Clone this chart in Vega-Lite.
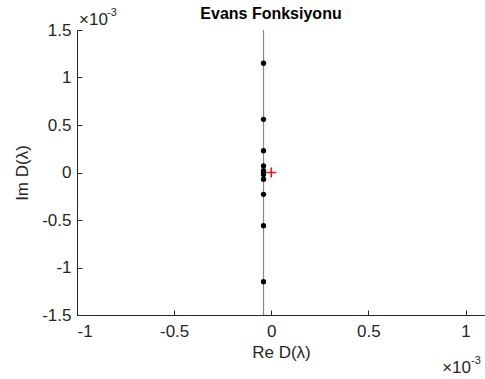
{
  "$schema": "https://vega.github.io/schema/vega-lite/v6.json",
  "autosize": "none",
  "width": 408,
  "height": 285,
  "padding": {"left": 77, "top": 30, "right": 0, "bottom": 64},
  "background": "white",
  "config": {
    "font": "Liberation Sans",
    "view": {"stroke": null},
    "axis": {
      "grid": false,
      "domainColor": "#262626",
      "tickColor": "#262626",
      "labelColor": "#262626",
      "titleColor": "#262626",
      "labelFontSize": 17,
      "titleFontSize": 17,
      "titleFontWeight": "normal",
      "labelFont": "Liberation Sans",
      "titleFont": "Liberation Sans",
      "labelExpr": "'' + datum.value"
    }
  },
  "title": {
    "text": "Evans Fonksiyonu",
    "font": "Liberation Sans",
    "fontSize": 16,
    "fontWeight": "bold",
    "color": "black",
    "offset": 6,
    "dx": -10,
    "dy": 21
  },
  "datasets": {
    "zeros": [
      {"re": -0.04, "im": 1.15},
      {"re": -0.04, "im": 0.56},
      {"re": -0.04, "im": 0.23},
      {"re": -0.04, "im": 0.07},
      {"re": -0.04, "im": 0.02},
      {"re": -0.04, "im": 0.0},
      {"re": -0.04, "im": -0.02},
      {"re": -0.04, "im": -0.07},
      {"re": -0.04, "im": -0.23},
      {"re": -0.04, "im": -0.56},
      {"re": -0.04, "im": -1.15}
    ],
    "origin": [{"re": 0, "im": 0}],
    "contour": [{"re": -0.04}],
    "one": [{}]
  },
  "layer": [
    {
      "data": {"name": "contour"},
      "mark": {"type": "rule", "color": "#888888", "strokeWidth": 1.2},
      "encoding": {
        "x": {"field": "re", "type": "quantitative", "scale": {"domain": [-1, 1.1], "nice": false, "zero": false}}
      }
    },
    {
      "data": {"name": "zeros"},
      "mark": {"type": "point", "filled": true, "color": "black", "size": 28, "opacity": 1},
      "encoding": {
        "x": {
          "field": "re", "type": "quantitative",
          "scale": {"domain": [-1, 1.1], "nice": false, "zero": false},
          "axis": {"title": "Re D(λ)", "values": [-1, -0.5, 0, 0.5, 1], "tickSize": -5, "labelPadding": 13, "titlePadding": 5}
        },
        "y": {
          "field": "im", "type": "quantitative",
          "scale": {"domain": [-1.5, 1.5], "nice": false, "zero": false},
          "axis": {"title": "Im D(λ)", "values": [-1.5, -1, -0.5, 0, 0.5, 1, 1.5], "tickSize": -5, "labelPadding": 11, "titlePadding": 10}
        }
      }
    },
    {
      "data": {"name": "origin"},
      "mark": {"type": "point", "shape": "M-1,0L1,0M0,-1L0,1", "filled": false, "stroke": "#e8141e", "strokeWidth": 1.6, "size": 100, "opacity": 1},
      "encoding": {
        "x": {"field": "re", "type": "quantitative"},
        "y": {"field": "im", "type": "quantitative"}
      }
    },
    {
      "data": {"name": "one"},
      "mark": {"type": "text", "text": "×10", "align": "left", "baseline": "alphabetic", "dx": 2, "dy": -5, "fontSize": 17, "color": "#262626", "font": "Liberation Sans"},
      "encoding": {"x": {"datum": -1}, "y": {"datum": 1.5}}
    },
    {
      "data": {"name": "one"},
      "mark": {"type": "text", "text": "-3", "align": "left", "baseline": "alphabetic", "dx": 30, "dy": -14, "fontSize": 11, "color": "#262626", "font": "Liberation Sans"},
      "encoding": {"x": {"datum": -1}, "y": {"datum": 1.5}}
    },
    {
      "data": {"name": "one"},
      "mark": {"type": "text", "text": "×10", "align": "right", "baseline": "alphabetic", "dx": -14, "dy": 58, "fontSize": 17, "color": "#262626", "font": "Liberation Sans"},
      "encoding": {"x": {"datum": 1.1}, "y": {"datum": -1.5}}
    },
    {
      "data": {"name": "one"},
      "mark": {"type": "text", "text": "-3", "align": "left", "baseline": "alphabetic", "dx": -14, "dy": 49, "fontSize": 11, "color": "#262626", "font": "Liberation Sans"},
      "encoding": {"x": {"datum": 1.1}, "y": {"datum": -1.5}}
    }
  ]
}
